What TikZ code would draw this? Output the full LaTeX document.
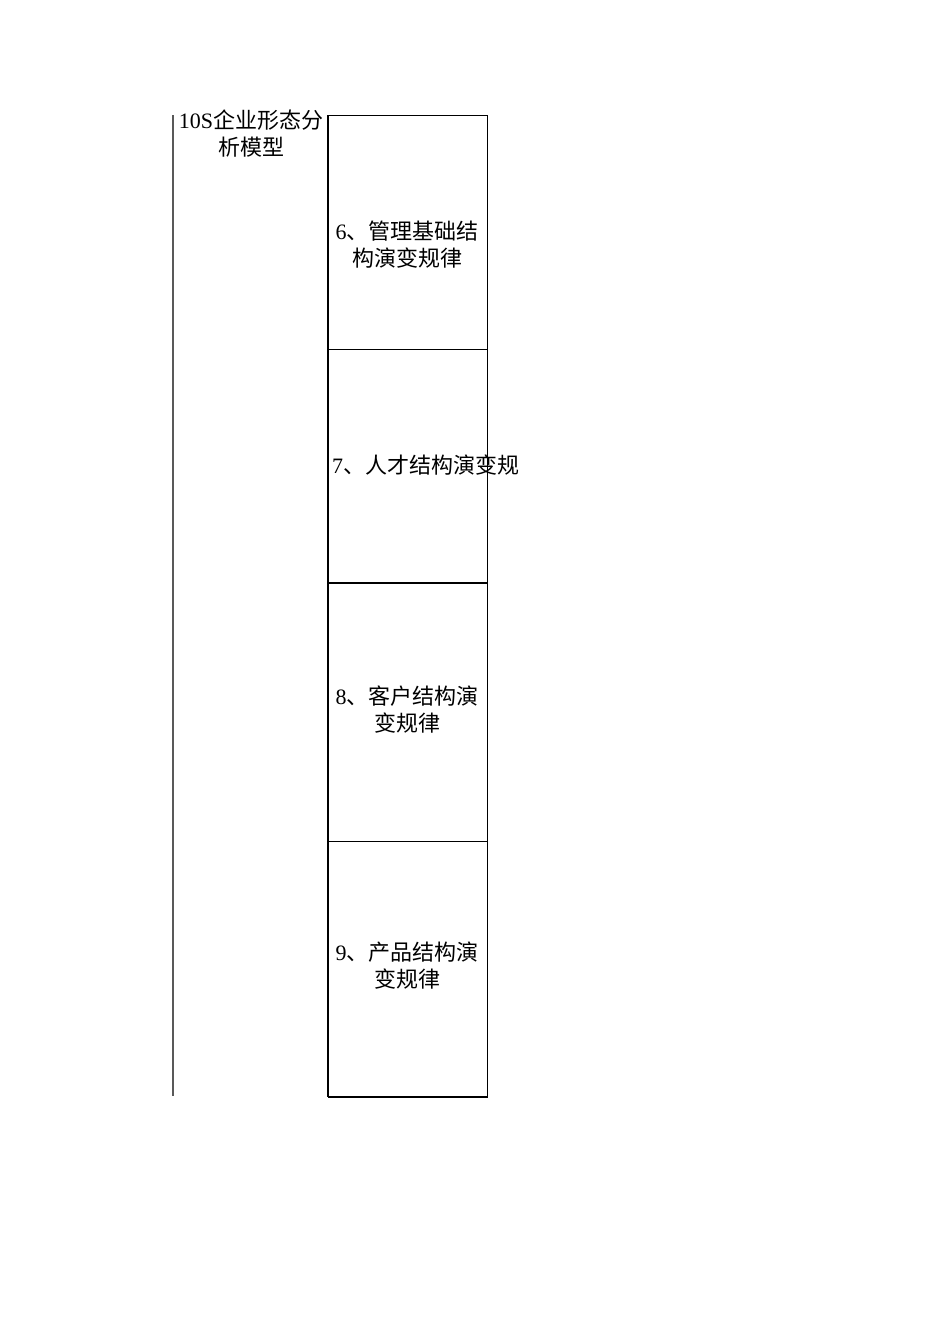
\documentclass[tikz,border=0pt]{standalone}
\usepackage{fontspec}
\setmainfont{Liberation Serif}
\newfontfamily\cjk{Noto Sans CJK SC}
\begin{document}
\begin{tikzpicture}[x=1pt,y=-1pt,
  cell/.style={draw=black,line width=1pt,minimum width=159pt,anchor=north west,inner sep=0pt},
  lbl/.style={font=\fontsize{22}{27}\selectfont,align=center,inner sep=0pt,text depth=0pt},
]
\useasboundingbox (0,0) rectangle (950,1344);
% left bracket line
\coordinate (lt) at (173,115);
\coordinate (lb) at (173,1096);
\draw[line width=1.3pt,black!65] (lt) -- (lb);
% cells
\node[cell,minimum height=234pt] (c6) at (328,115) {};
\node[cell,minimum height=234pt] (c7) at (328,349) {};
\node[cell,minimum height=258pt] (c8) at (328,583) {};
\node[cell,minimum height=255pt] (c9) at (328,841) {};
\draw[line width=2pt] (c6.north west) -- (c9.south west);
\draw[line width=2pt] (c9.south west) -- (c9.south east);
\draw[line width=1.6pt] (c8.north west) -- (c8.north east);
% texts
\node[lbl] (t0) at (251,133) {10S{\cjk 企业形态分}\\{\cjk 析模型}};
\node[lbl] (t6) at (407,244) {6{\cjk 、管理基础结}\\{\cjk 构演变规律}};
\node[lbl,anchor=west] (t7) at (332,464) {7{\cjk 、人才结构演变规}};
\node[lbl] (t8) at (407,709) {8{\cjk 、客户结构演}\\{\cjk 变规律}};
\node[lbl] (t9) at (407,965) {9{\cjk 、产品结构演}\\{\cjk 变规律}};
\end{tikzpicture}
\end{document}
